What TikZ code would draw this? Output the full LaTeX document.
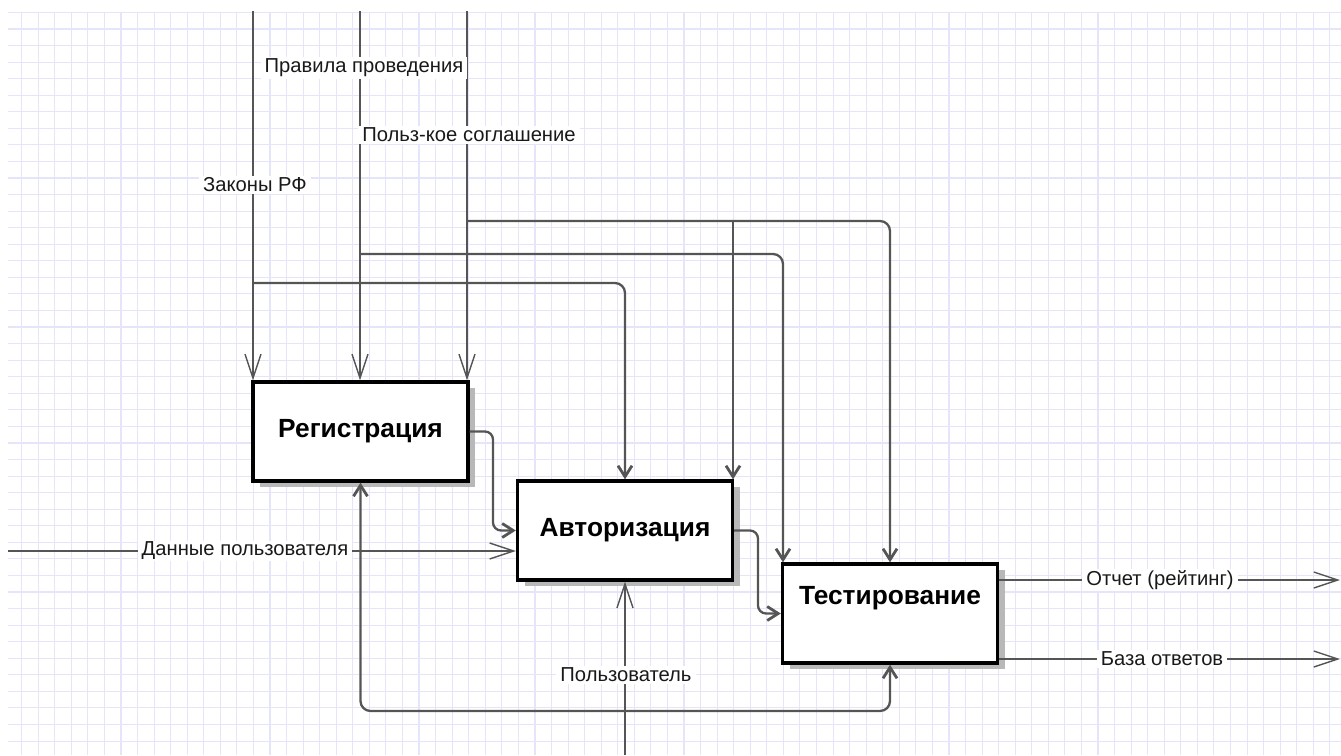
\documentclass[tikz,border=0pt]{standalone}
\usepackage{fontspec}
\setmainfont{Liberation Sans}
\usetikzlibrary{arrows.meta,shadows,calc}

\definecolor{gridline}{HTML}{E5E5FA}
\definecolor{wire}{HTML}{555555}

\begin{document}
\begin{tikzpicture}[x=1pt,y=-1pt,
  func/.style={draw=black, line width=3.4pt, fill=white,
    minimum width=215pt, minimum height=99pt, inner sep=0pt,
    drop shadow={shadow xshift=7pt, shadow yshift=-6pt, fill=black!28, opacity=1},
    font=\bfseries\fontsize{26.3}{31}\selectfont},
  title/.style={inner sep=0pt, font=\bfseries\fontsize{26.3}{31}\selectfont},
  conn/.style={draw=wire, line width=2.3pt, line join=round},
  inV/.style={-{Straight Barb[length=24pt,width=16pt,line width=1.4pt]}},
  inB/.style={-{Straight Barb[length=11pt,width=14pt,line width=2.8pt]}},
  lab/.style={fill=white, inner xsep=4pt, inner ysep=1.5pt,
    font=\fontsize{20.2}{24}\selectfont, text=black!90},
  gline/.style={draw=gridline, line width=1.1pt}]

\useasboundingbox (0,0) rectangle (1341,755);

% background grid
\foreach \i in {0,...,79} {
  \pgfmathsetmacro{\gx}{21.6+16.56*\i}
  \draw[gline] (\gx,12) -- (\gx,755);
}
\foreach \j in {0,...,44} {
  \pgfmathsetmacro{\gy}{12.4+16.56*\j}
  \draw[gline] (8,\gy) -- (1341,\gy);
}

% function boxes
\node[func] (reg)  at (360.5,431.5) {Регистрация};
\node[func] (auth) at (625,530.5) {Авторизация};
\node[func] (test) at (890,613.5) {};

% free ends and branch points
\coordinate (lawsSrc)  at (253,11);
\coordinate (rulesSrc) at (360,11);
\coordinate (agreeSrc) at (467,11);
\coordinate (lawsJ)    at (253,283);
\coordinate (rulesJ)   at (360,254);
\coordinate (rulesDrop) at (783,254);
\coordinate (agreeJ)   at (467,221);
\coordinate (agreeK)   at (733,221);
\coordinate (r2a)      at (493,500);
\coordinate (a2t)      at (758,570);
\coordinate (dataSrc)  at (8,551);
\coordinate (userSrc)  at (625,755);
\coordinate (loopBase) at (625,711);
\coordinate (repOut)   at (1340,580);
\coordinate (dbOut)    at (1340,659);

% controls into Регистрация
\draw[conn,inV] (lawsSrc) -- (lawsSrc |- reg.north);
\draw[conn,inV] (rulesSrc) -- (rulesSrc |- reg.north);
\draw[conn,inV] (agreeSrc) -- (agreeSrc |- reg.north);

% control branches
\draw[conn,inB,rounded corners=10pt] (lawsJ) -| (auth.north);
\draw[conn,inB,rounded corners=10pt] (rulesJ) -| (rulesDrop |- test.north);
\draw[conn,inB,rounded corners=10pt] (agreeJ) -| (test.north);
\draw[conn,inB] (agreeK) -- (agreeK |- auth.north);

% flow between functions
\draw[conn,inB,rounded corners=8pt] (reg.east) -| (r2a) |- (auth.west);
\draw[conn,inB,rounded corners=8pt] (auth.east) -| (a2t) |- (test.west);

% input
\draw[conn,inV] (dataSrc) -- (dataSrc -| auth.west);

% mechanism and feedback loop
\draw[conn,{Straight Barb[length=11pt,width=14pt,line width=2.8pt]}-{Straight Barb[length=11pt,width=14pt,line width=2.8pt]},rounded corners=10pt]
  (reg.south) |- (loopBase) -| (test.south);
\draw[conn,inV] (userSrc) -- (auth.south);

% outputs
\draw[conn,inV] (test.east |- repOut) -- (repOut);
\draw[conn,inV] (test.east |- dbOut) -- (dbOut);

\node[title] (testTitle) at (890,598) {Тестирование};

% labels
\node[lab] (lawsLab)  at (255,185) {Законы РФ};
\node[lab] (rulesLab) at (364,68)  {Правила проведения};
\node[lab] (agreeLab) at (469,135) {Польз-кое соглашение};
\node[lab] (dataLab)  at (245,551) {Данные пользователя};
\node[lab] (userLab)  at (626,675) {Пользователь};
\node[lab] (repLab)   at (1160,580) {Отчет (рейтинг)};
\node[lab] (dbLab)    at (1162,659) {База ответов};

\end{tikzpicture}
\end{document}
